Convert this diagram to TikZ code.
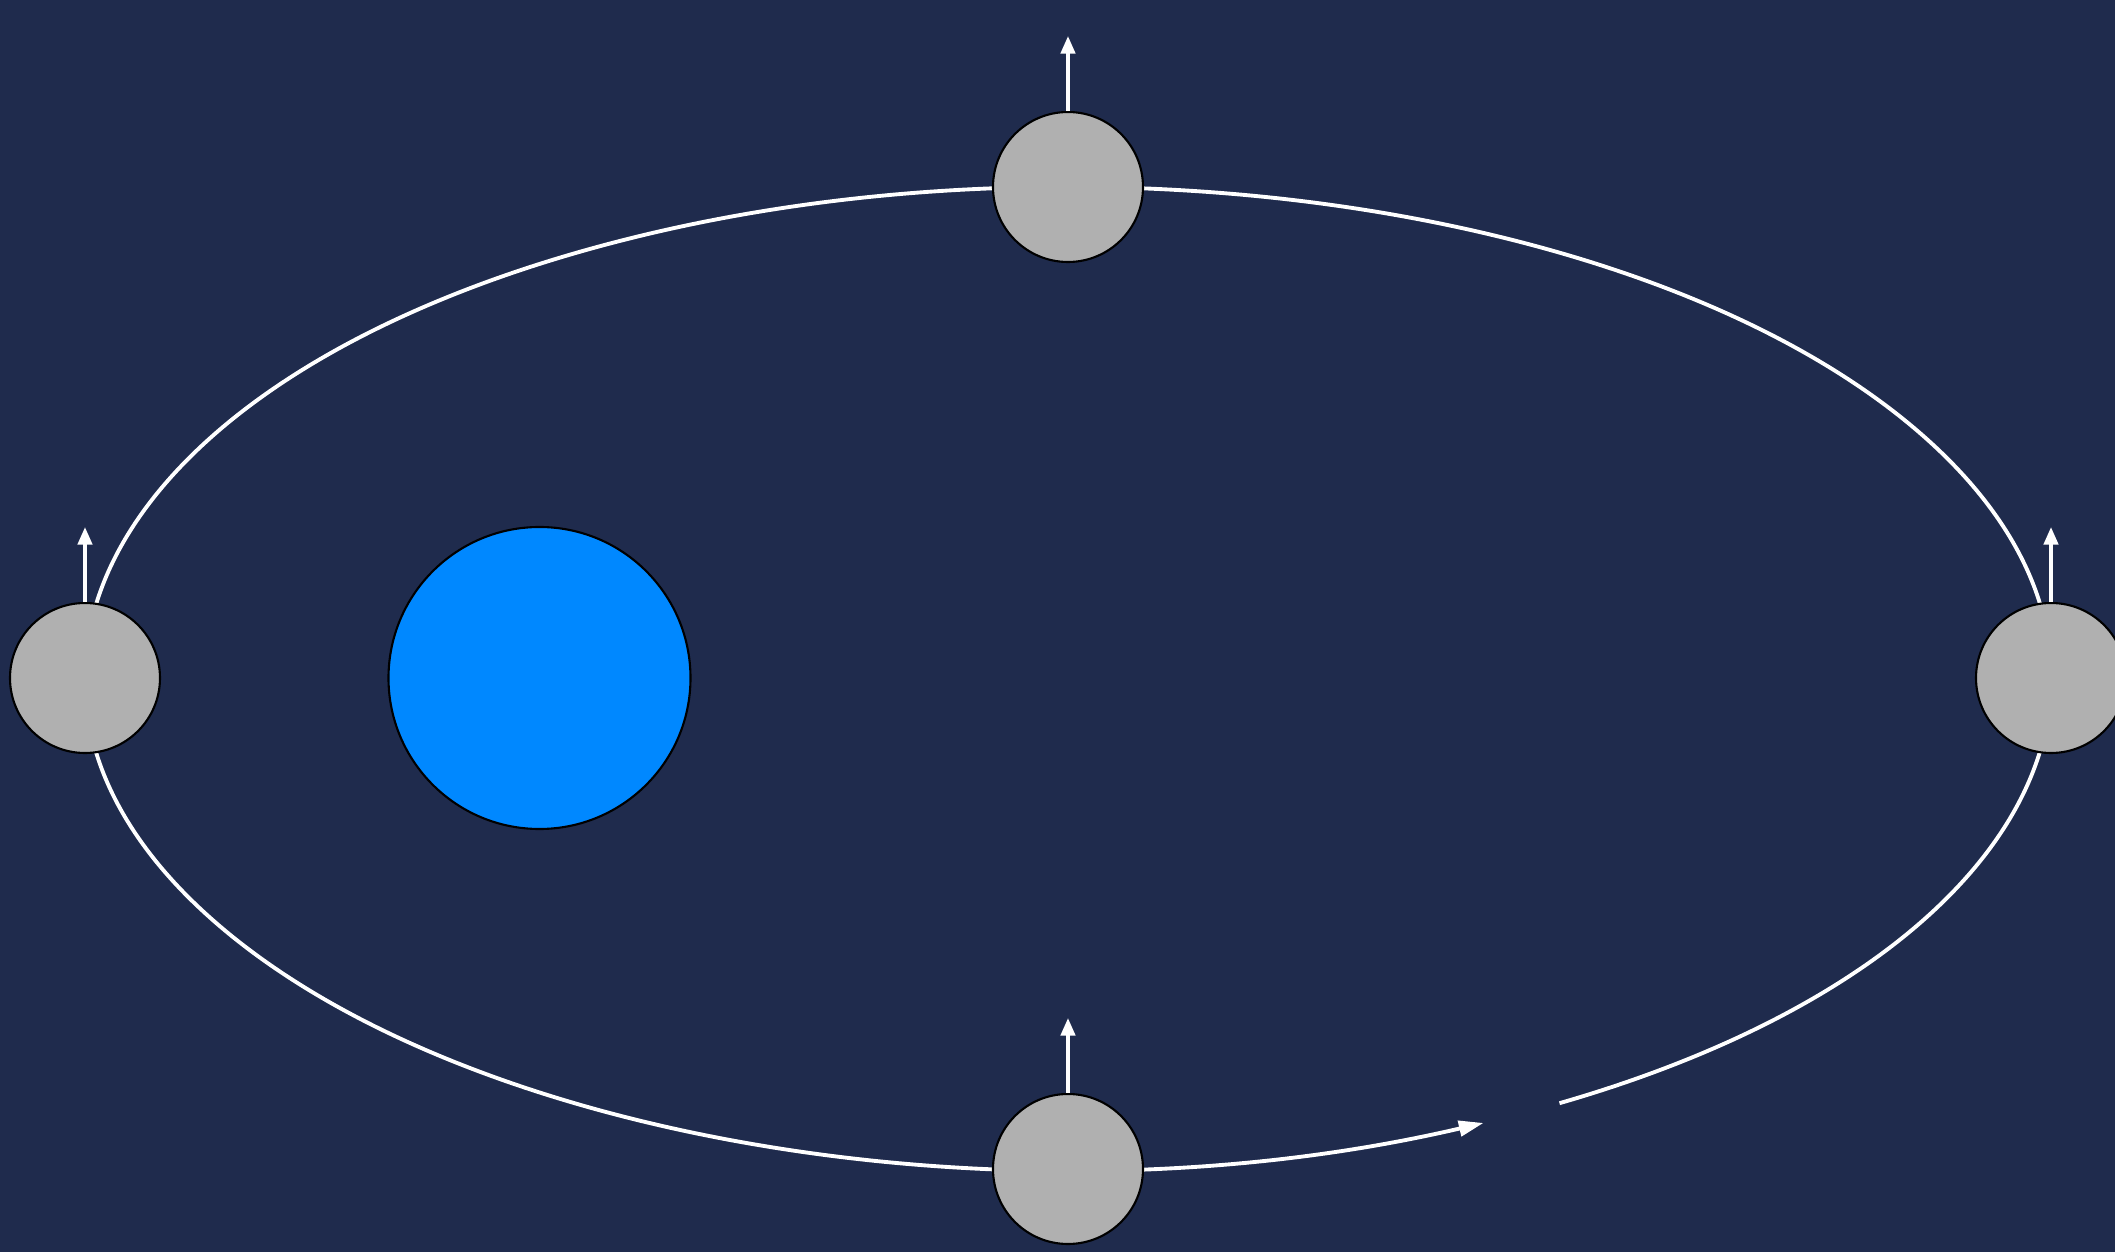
\documentclass[tikz,border=0pt]{standalone}
\usepackage{tikz}
\usetikzlibrary{positioning, arrows.meta}

\definecolor{skybg}{RGB}{31,43,77}
\definecolor{earthblue}{RGB}{0,136,255}
\definecolor{moongrey}{RGB}{176,176,176}

\begin{document}
\begin{tikzpicture}[
    moon_body/.style={circle, draw=black, line width=0.6pt, fill=moongrey, minimum size=1.5cm, inner sep=0pt},
    earth_body/.style={circle, draw=black, line width=0.6pt, fill=earthblue, minimum size=3.02cm, inner sep=0pt},
    orbit/.style={draw=white, line width=1.1pt},
    spin_arrow/.style={-{Triangle[length=5pt, width=4pt]}, draw=white, fill=white, line width=1.1pt}
]

% Background
\fill[skybg] (0,0) rectangle (21.15,12.52);
\useasboundingbox (0,0) rectangle (21.15,12.52);

% Orbit with gap and direction arrow
\draw[orbit, -{Triangle[length=7pt, width=4.4pt]}, fill=none] (15.595,1.488)
    arc[start angle=-60, end angle=295, x radius=9.83cm, y radius=4.91cm];

% Bodies
\node[earth_body] (earth) at (5.395,5.74) {};
\node[moon_body] (moon_top) at (10.68,10.65) {};
\node[moon_body] (moon_left) at (0.85,5.74) {};
\node[moon_body] (moon_right) at (20.51,5.74) {};
\node[moon_body] (moon_bottom) at (10.68,0.83) {};

% Arrow ends
\coordinate[above=0.75cm of moon_top.north] (tip_top);
\coordinate[above=0.75cm of moon_left.north] (tip_left);
\coordinate[above=0.75cm of moon_right.north] (tip_right);
\coordinate[above=0.75cm of moon_bottom.north] (tip_bottom);

% Spin arrows
\draw[spin_arrow] (moon_top.north) -- (tip_top);
\draw[spin_arrow] (moon_left.north) -- (tip_left);
\draw[spin_arrow] (moon_right.north) -- (tip_right);
\draw[spin_arrow] (moon_bottom.north) -- (tip_bottom);

\end{tikzpicture}
\end{document}
